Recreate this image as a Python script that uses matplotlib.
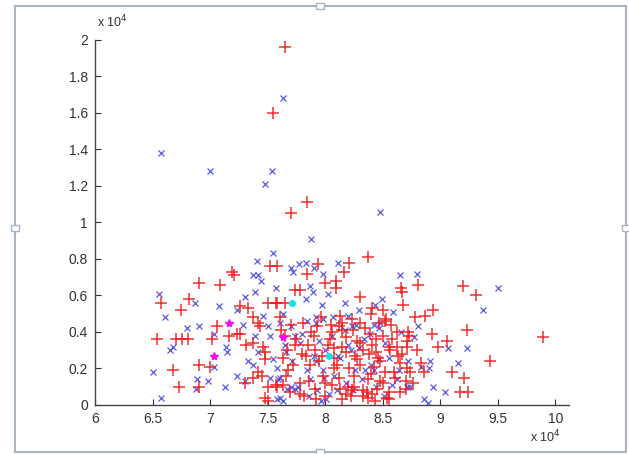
import matplotlib
matplotlib.use("Agg")
import matplotlib.pyplot as plt  # noqa: E402
from matplotlib.patches import Rectangle  # noqa: E402

plt.rcParams["font.family"] = ["Liberation Sans", "DejaVu Sans"]

# values in units of 1e4
red_x = [
    7.65, 7.55, 7.84, 7.70, 9.89, 9.43,
    7.52, 7.58, 7.19, 7.21, 6.90, 7.09, 6.57, 6.82, 7.50, 7.57, 6.75, 7.26,
    7.33, 7.37, 7.94, 8.16, 8.21, 8.37, 7.84, 8.00, 8.09, 8.09, 7.74, 7.78,
    8.66, 8.67, 8.81, 9.20, 9.31, 8.30, 7.58, 7.65, 8.68, 8.41, 8.50, 8.94,
    8.87, 8.78, 7.61, 8.53, 8.47, 9.23, 8.93, 8.73, 9.06, 8.98, 8.62, 8.71,
    8.71, 8.62, 8.83, 8.74, 8.86, 9.10, 9.21, 9.17, 9.24, 8.54, 8.33, 8.41,
    8.20, 8.13, 8.65, 8.70, 8.55,
    7.06, 7.42, 7.43, 6.54, 6.70, 6.76, 6.81, 7.02, 7.16, 7.23, 7.26, 7.31,
    7.37, 7.46, 7.48, 6.90, 7.00, 7.48, 6.68, 7.37, 7.42, 7.45, 6.73, 6.90,
    7.50, 7.57, 7.48, 7.50, 7.30, 7.58,
    7.70, 7.81, 7.93, 7.65, 7.90, 8.06, 8.15, 7.74, 7.91, 8.02, 8.15, 7.63,
    7.83, 7.87, 7.98, 8.08, 8.21, 7.68, 7.63, 7.78, 7.91, 8.06, 8.23, 8.00,
    7.82, 7.69, 8.15, 7.97, 8.08, 7.67,
    8.52, 8.24, 8.39, 8.50, 8.72, 8.30, 8.41, 8.55, 8.26, 8.38, 8.46, 8.67,
    8.80, 8.30, 8.42, 8.52, 8.65, 8.71, 8.25, 8.37, 8.48, 8.61, 8.76, 8.33,
    8.45, 8.55, 8.70, 8.37, 8.22,
    8.13, 8.15, 8.23, 8.30,
    7.62, 7.75, 7.88, 8.04, 8.12, 7.80, 7.95, 8.10, 8.18, 7.72, 7.86, 8.00,
    8.12, 8.25, 8.35, 8.44, 8.58, 8.33, 8.48, 8.60, 8.28, 8.18, 8.05, 7.96,
    8.40, 8.57, 8.63, 8.50, 8.40, 8.18, 7.92, 7.78, 8.43, 8.28, 8.36, 7.66,
    8.08, 7.85, 8.44, 8.56,
]
red_y = [
    1.96, 1.60, 1.11, 1.05, 0.37, 0.24,
    0.76, 0.76, 0.73, 0.71, 0.67, 0.66, 0.56, 0.58, 0.56, 0.56, 0.52, 0.54,
    0.53, 0.48, 0.77, 0.73, 0.78, 0.81, 0.72, 0.67, 0.68, 0.64, 0.63, 0.63,
    0.64, 0.62, 0.66, 0.65, 0.60, 0.59, 0.56, 0.56, 0.55, 0.53, 0.52, 0.52,
    0.49, 0.48, 0.48, 0.47, 0.45, 0.41, 0.39, 0.38, 0.35, 0.32, 0.40, 0.35,
    0.32, 0.32, 0.23, 0.18, 0.18, 0.18, 0.15, 0.07, 0.07, 0.04, 0.05, 0.06,
    0.10, 0.09, 0.07, 0.13, 0.03,
    0.43, 0.45, 0.43, 0.36, 0.36, 0.36, 0.36, 0.36, 0.38, 0.39, 0.39, 0.33,
    0.34, 0.32, 0.29, 0.22, 0.21, 0.25, 0.19, 0.15, 0.18, 0.16, 0.10, 0.10,
    0.10, 0.11, 0.04, 0.02, 0.12, 0.10,
    0.44, 0.45, 0.43, 0.38, 0.38, 0.40, 0.41, 0.33, 0.30, 0.33, 0.32, 0.26,
    0.27, 0.22, 0.16, 0.20, 0.20, 0.19, 0.11, 0.12, 0.09, 0.11, 0.08, 0.05,
    0.05, 0.07, 0.03, 0.27, 0.26, 0.30,
    0.46, 0.41, 0.39, 0.38, 0.40, 0.34, 0.33, 0.32, 0.27, 0.28, 0.26, 0.28,
    0.30, 0.22, 0.21, 0.18, 0.23, 0.20, 0.16, 0.14, 0.13, 0.15, 0.12, 0.08,
    0.09, 0.07, 0.09, 0.04, 0.05,
    0.49, 0.45, 0.47, 0.45,
    0.41, 0.36, 0.40, 0.36, 0.43, 0.28, 0.24, 0.22, 0.29, 0.22, 0.13, 0.12,
    0.15, 0.10, 0.42, 0.36, 0.36, 0.30, 0.24, 0.18, 0.35, 0.37, 0.44, 0.48,
    0.50, 0.44, 0.27, 0.12, 0.17, 0.06, 0.03, 0.06, 0.02, 0.25, 0.07, 0.16,
    0.31, 0.33, 0.29, 0.30,
]

blue_x = [
    7.63, 6.57, 7.00, 7.54, 7.48, 8.48, 7.88,
    7.55, 7.41, 7.70, 7.72, 7.77, 7.83, 7.90, 7.98, 8.11, 8.65, 8.80, 7.37,
    7.42, 7.44, 7.39, 7.57, 6.56, 6.87, 7.30, 7.08, 7.23, 6.61, 7.46, 9.50,
    7.87, 7.89, 8.02, 7.83, 7.97, 8.17, 8.49, 8.43, 8.29, 8.59, 7.63, 9.37,
    8.81, 8.48, 9.07, 9.23, 9.15, 8.91, 8.90, 8.83, 8.94, 9.04, 8.86, 8.71,
    8.89,
    7.29, 7.50, 6.90, 6.80, 7.03, 7.39, 7.52, 6.68, 6.65, 7.14, 7.15, 7.42,
    7.03, 7.33, 7.37, 7.55, 6.50, 7.23, 7.30, 7.52, 6.89, 6.98, 6.88, 7.13,
    7.59, 6.57, 7.58, 7.63, 7.96, 7.70, 7.74,
    7.61, 7.84, 7.74, 7.78, 7.65, 8.00, 8.11, 7.71, 7.92, 7.92, 8.17, 7.61,
    7.87, 7.99, 8.08, 7.67, 7.76, 7.93, 7.61, 8.01, 8.10, 8.20, 7.92, 7.98,
    8.07,
    8.42, 8.23, 8.39, 8.29, 8.22, 8.52, 8.35, 8.64, 8.72, 8.42, 8.58, 8.24,
    8.74, 8.47, 8.77,
    7.66, 7.80, 7.95, 8.13, 8.26, 8.40, 8.55, 8.34, 8.47, 7.84, 7.98, 8.18,
    8.32, 8.03, 7.86, 8.62, 8.51, 8.27, 7.70, 8.06, 8.20, 7.90, 8.44, 8.66,
    7.58,
]
blue_y = [
    1.68, 1.38, 1.28, 1.28, 1.21, 1.06, 0.91,
    0.83, 0.79, 0.75, 0.73, 0.77, 0.78, 0.75, 0.72, 0.78, 0.71, 0.72, 0.71,
    0.71, 0.68, 0.62, 0.64, 0.61, 0.56, 0.59, 0.54, 0.52, 0.48, 0.49, 0.64,
    0.65, 0.62, 0.61, 0.58, 0.55, 0.56, 0.58, 0.55, 0.52, 0.51, 0.50, 0.52,
    0.43, 0.45, 0.31, 0.31, 0.23, 0.24, 0.20, 0.21, 0.10, 0.07, 0.03, 0.10,
    0.01,
    0.44, 0.43, 0.43, 0.42, 0.39, 0.38, 0.38, 0.32, 0.30, 0.32, 0.29, 0.29,
    0.21, 0.24, 0.22, 0.25, 0.18, 0.16, 0.13, 0.15, 0.14, 0.13, 0.09, 0.10,
    0.14, 0.04, 0.03, 0.02, 0.02, 0.10, 0.09,
    0.45, 0.46, 0.38, 0.34, 0.33, 0.30, 0.27, 0.24, 0.24, 0.45, 0.41, 0.15,
    0.14, 0.15, 0.16, 0.09, 0.10, 0.08, 0.04, 0.03, 0.08, 0.49, 0.48, 0.47,
    0.48,
    0.44, 0.43, 0.39, 0.31, 0.30, 0.34, 0.19, 0.19, 0.24, 0.19, 0.11, 0.08,
    0.10, 0.25, 0.37,
    0.29, 0.39, 0.35, 0.26, 0.19, 0.22, 0.26, 0.36, 0.42, 0.19, 0.19, 0.12,
    0.14, 0.06, 0.05, 0.14, 0.05, 0.44, 0.43, 0.38, 0.33, 0.27, 0.10, 0.40,
    0.20,
]

magenta_x = [7.16, 7.03, 7.63]
magenta_y = [0.45, 0.27, 0.37]
cyan_x = [7.71, 8.03]
cyan_y = [0.56, 0.27]

x_ticks = [6, 6.5, 7, 7.5, 8, 8.5, 9, 9.5, 10]
x_labels = ["6", "6.5", "7", "7.5", "8", "8.5", "9", "9.5", "10"]
y_ticks = [0, 0.2, 0.4, 0.6, 0.8, 1, 1.2, 1.4, 1.6, 1.8, 2]
y_labels = ["0", "0.2", "0.4", "0.6", "0.8", "1", "1.2", "1.4", "1.6", "1.8", "2"]

fig = plt.figure(figsize=(6.29, 4.54), dpi=100)
ax = fig.add_axes([0.151, 0.108, 0.754, 0.804])

ax.plot(blue_x, blue_y, "x", color="#3c3cdc", markersize=5,
        markeredgewidth=0.9, alpha=0.85)
ax.plot(red_x, red_y, "+", color="#f01818", markersize=8,
        markeredgewidth=1.1, alpha=0.9)
ax.plot(magenta_x, magenta_y, "*", color="#ff00ff", markersize=6)
ax.plot(cyan_x, cyan_y, "o", color="#00e8e8", markersize=4)

ax.set_xlim(6, 10.12)
ax.set_ylim(0, 2)
ax.set_xticks(x_ticks)
ax.set_xticklabels(x_labels)
ax.set_yticks(y_ticks)
ax.set_yticklabels(y_labels)
ax.tick_params(direction="in", length=4, labelsize=10, colors="#333333",
               pad=5)

for side in ("top", "right"):
    ax.spines[side].set_visible(False)
for side in ("left", "bottom"):
    ax.spines[side].set_color("#444444")
    ax.spines[side].set_linewidth(1.0)

fig.text(0.155, 0.94, r"x 10$^4$", fontsize=9, color="#333333")
fig.text(0.842, 0.025, r"x 10$^4$", fontsize=9, color="#333333")

# outer selection frame with handles
frame = Rectangle((15 / 629, 2 / 454), 611 / 629, 446 / 454,
                  transform=fig.transFigure, fill=False,
                  edgecolor="#a9b5c2", linewidth=1.5)
fig.patches.append(frame)
for hx, hy in [(320, 448), (15, 226), (626, 226), (320, 2)]:
    fig.patches.append(Rectangle(((hx - 4) / 629, (hy - 3) / 454),
                                 8 / 629, 6 / 454,
                                 transform=fig.transFigure, fill=True,
                                 facecolor="white", edgecolor="#a9b5c2",
                                 linewidth=1.0))

fig.savefig("out.png", dpi=100)
